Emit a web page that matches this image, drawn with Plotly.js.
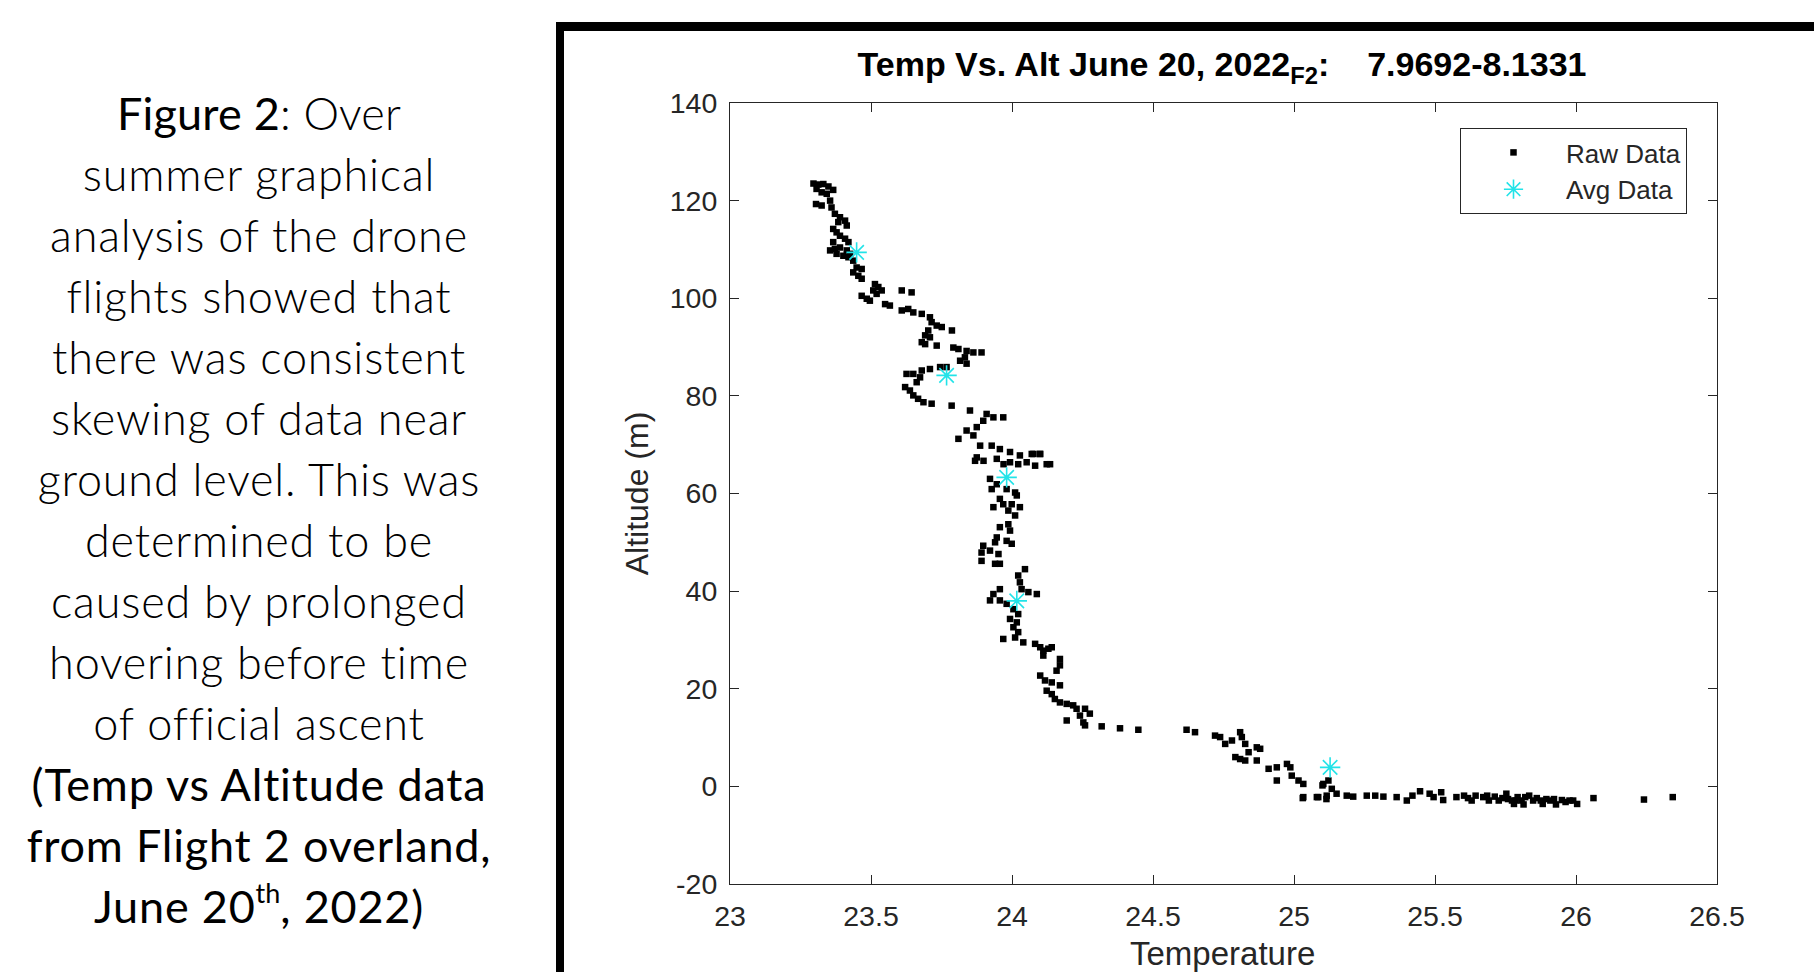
<!DOCTYPE html>
<html>
<head>
<meta charset="utf-8">
<script src="https://cdn.plot.ly/plotly-3.0.1.min.js"></script>
<style>
html, body { margin: 0; padding: 0; background: #fff; width: 1814px; height: 972px; overflow: hidden; }
#chart { position: absolute; left: 0; top: 0; width: 1814px; height: 972px; }
#caption { position: absolute; left: 0; top: 83px; width: 518px; text-align: center;
  font-family: Lato, "Open Sans", sans-serif; font-weight: 300; font-size: 45px; line-height: 61px;
  letter-spacing: 0.8px; color: #000; white-space: nowrap; }
#caption .em { font-weight: 400; }
#caption .tight { letter-spacing: 0.2px; }
#caption sup { font-size: 0.6em; line-height: 0; vertical-align: 0.75em; letter-spacing: 0; }
</style>
</head>
<body>
<div id="chart"></div>
<div id="caption">
  <div class="tight"><span class="em">Figure 2</span>: Over</div>
  <div>summer graphical</div>
  <div>analysis of the drone</div>
  <div>flights showed that</div>
  <div>there was consistent</div>
  <div>skewing of data near</div>
  <div>ground level. This was</div>
  <div>determined to be</div>
  <div>caused by prolonged</div>
  <div>hovering before time</div>
  <div>of official ascent</div>
  <div class="em">(Temp vs Altitude data</div>
  <div class="em">from Flight 2 overland,</div>
  <div class="em">June 20<sup>th</sup>, 2022)</div>
</div>
<script>
// ---- data ----
const rawTemp = [
 23.296,23.313,23.331,23.349,23.366,23.307,23.325,23.343,23.305,23.325,23.355,23.360,23.372,23.390,23.408,23.384,23.414,23.366,23.378,23.390,23.408,23.420,23.366,23.355,23.372,23.390,23.414,23.426,23.420,23.437,23.449,23.467,23.437,23.455,23.467,23.378,23.402,
 23.514,23.526,23.508,23.538,23.467,23.485,23.496,23.520,23.609,23.644,23.550,23.567,23.609,23.632,23.650,23.680,23.709,23.715,23.733,23.751,23.787,23.703,23.692,23.709,23.680,23.692,23.733,23.792,23.810,23.839,23.863,23.892,23.833,23.816,23.839,23.768,23.745,23.709,23.680,23.650,23.626,23.674,23.662,23.621,23.638,23.650,23.667,23.686,23.715,23.786,23.851,23.910,23.934,23.969,23.898,23.875,23.839,23.863,23.810,23.887,23.928,23.957,23.993,24.028,24.076,24.099,23.875,
 23.869,23.899,23.946,23.970,23.993,24.022,24.052,24.070,24.100,24.082,24.123,24.135,
 23.922,23.946,23.928,23.981,24.011,24.017,23.957,23.934,23.969,23.999,24.028,23.987,24.011,23.957,23.987,23.993,23.946,23.940,23.981,23.999,23.898,23.892,23.922,23.952,23.892,23.940,23.957,
 24.046,24.022,24.028,24.034,24.058,24.088,23.957,23.934,23.922,23.957,23.981,24.005,24.022,23.993,24.017,24.005,24.022,23.969,24.011,24.040,24.082,24.100,24.111,24.129,24.141,24.111,24.170,24.170,24.158,
 24.100,24.117,24.141,24.170,24.123,24.141,24.152,24.170,24.194,24.217,24.229,24.259,24.276,24.241,24.194,24.253,24.259,24.318,24.383,24.448,
 24.619,24.649,24.720,24.738,24.756,24.780,24.809,24.815,24.827,24.792,24.809,24.839,24.868,24.880,24.868,24.827,24.910,24.939,24.939,24.975,24.987,24.992,25.016,25.033,
 25.104,25.122,25.134,25.033,25.086,25.116,25.151,25.187,25.210,25.258,25.288,25.317,25.364,25.031,25.081,25.115,25.101,
 25.400,25.420,25.447,25.481,25.495,25.522,25.529,25.576,25.603,25.630,25.644,25.671,25.691,25.712,25.739,25.753,25.773,25.780,25.793,25.807,25.814,25.834,25.848,25.861,25.882,25.895,25.909,25.929,25.950,25.977,26.004,26.062,26.241,26.343,
 25.617,25.685,25.726,25.759,25.786,25.820,25.875,25.922,25.963,25.990
];
const rawAlt = [
 123.5,123.3,123.4,122.9,122.2,122.4,121.7,121.4,119.3,119.0,120.0,118.6,117.3,116.6,115.9,115.6,114.9,114.2,113.5,112.8,112.2,111.5,111.5,109.8,110.1,110.4,109.8,109.1,108.4,107.7,106.3,106.0,105.3,104.6,104.0,109.1,108.7,
 102.9,102.3,101.6,101.6,100.5,99.9,99.5,100.9,101.6,101.2,98.8,98.5,97.5,97.8,97.1,96.8,96.1,95.1,94.4,94.1,93.4,93.4,92.4,92.0,91.0,90.6,90.3,89.9,89.6,89.2,88.9,88.9,87.9,87.2,86.6,85.9,85.9,85.5,85.2,84.5,84.5,83.8,82.8,81.8,81.1,80.1,79.4,78.7,78.4,78.0,77.0,76.3,75.6,75.6,74.9,73.6,72.9,71.9,71.2,69.8,69.8,69.1,68.5,67.8,68.1,68.1,67.4,
 66.7,66.7,67.1,66.0,66.4,66.0,66.4,68.1,68.1,65.7,66.0,66.0,
 63.0,61.9,60.9,60.9,60.2,59.6,58.9,57.2,57.8,57.8,57.2,56.5,55.5,53.1,53.7,52.4,51.0,50.0,50.3,49.7,49.3,47.9,48.3,47.6,46.2,45.6,45.6,
 44.5,43.2,41.8,40.4,39.8,39.4,40.4,39.4,38.1,38.1,37.4,36.3,35.3,34.3,33.6,32.6,31.6,30.2,30.5,29.5,29.2,28.5,27.8,28.2,28.5,26.8,26.1,24.8,23.7,
 22.7,21.7,21.3,20.7,19.6,18.9,17.9,17.2,16.9,16.6,15.9,15.9,14.9,14.5,13.5,13.1,12.5,12.3,11.9,11.6,
 11.6,11.1,10.4,10.1,8.7,9.4,11.1,10.1,8.7,6.0,5.6,7.0,8.0,7.7,5.3,5.3,3.6,3.9,1.2,4.6,3.9,2.2,1.2,0.5,
 0.5,1.2,-0.5,-2.2,-2.2,-1.9,-1.5,-1.9,-2.1,-1.9,-1.9,-2.1,-2.2,-2.4,-2.2,-2.6,0.2,
 -2.9,-1.9,-1.0,-1.5,-2.2,-1.2,-2.8,-2.2,-1.9,-2.9,-1.9,-2.2,-2.9,-2.1,-2.4,-1.5,-2.9,-3.6,-2.2,-2.9,-3.7,-1.9,-2.9,-2.4,-3.6,-2.6,-2.9,-3.7,-2.8,-2.9,-3.6,-2.4,-2.7,-2.2,
 -2.4,-1.9,-2.9,-2.6,-2.9,-2.2,-2.9,-2.6,-3.2,-2.9
];
const avgTemp = [23.449, 23.768, 23.981, 24.017, 25.128];
const avgAlt  = [109.4, 84.2, 63.3, 38.0, 3.9];

const xTickVals = [23, 23.5, 24, 24.5, 25, 25.5, 26, 26.5];
const xTickText = ['23', '23.5', '24', '24.5', '25', '25.5', '26', '26.5'];
const yTickVals = [-20, 0, 20, 40, 60, 80, 100, 120, 140];
const yTickText = ['-20', '0', '20', '40', '60', '80', '100', '120', '140'];

const seriesNames = ['Raw Data', 'Avg Data'];
const titleText = '<b>Temp Vs. Alt June 20, 2022<sub>F2</sub>:\u00a0\u00a0\u00a0 7.9692-8.1331</b>';
const xTitle = 'Temperature';
const yTitle = 'Altitude (m)';

// ---- chart ----
const axisColor = '#262626';
const font = 'Liberation Sans, Arial, Helvetica, sans-serif';

const traces = [
  { type: 'scatter', mode: 'markers', name: seriesNames[0], x: rawTemp, y: rawAlt,
    marker: { symbol: 'square', size: 6.5, color: '#000000', line: { width: 0 } } },
  { type: 'scatter', mode: 'markers', name: seriesNames[1], x: avgTemp, y: avgAlt,
    marker: { symbol: 'asterisk-open', size: 17, color: '#22e3e8', line: { color: '#22e3e8', width: 1.6 } } }
];

// page-pixel helpers for positions outside the plot area
const L = 730, R = 97, T = 103, B = 88, W = 1814, H = 972;
const pw = W - L - R, ph = H - T - B;
const px = v => (v - L) / pw;
const py = v => (H - B - v) / ph;

const layout = {
  width: W, height: H, autosize: false,
  margin: { l: L, r: R, t: T, b: B, pad: 0 },
  paper_bgcolor: '#ffffff', plot_bgcolor: '#ffffff',
  font: { family: font, color: axisColor },
  title: { text: titleText, font: { family: font, size: 34, color: '#000000' },
           x: px(1222), xanchor: 'center', xref: 'paper', y: 1 - 64.5 / H, yref: 'container', yanchor: 'middle' },
  showlegend: true,
  legend: { x: px(1460), y: py(128), xanchor: 'left', yanchor: 'top', bgcolor: '#ffffff',
            bordercolor: axisColor, borderwidth: 1, itemwidth: 95,
            font: { family: font, size: 26, color: axisColor } },
  xaxis: { range: [23, 26.5], tickvals: xTickVals, ticktext: xTickText, ticks: 'inside', ticklen: 9,
           tickwidth: 1, tickcolor: axisColor, showline: true, linecolor: axisColor, linewidth: 1,
           mirror: 'ticks', showgrid: false, zeroline: false, ticklabelstandoff: 7,
           tickfont: { family: font, size: 28.5, color: axisColor } },
  yaxis: { range: [-20, 140], tickvals: yTickVals, ticktext: yTickText, ticks: 'inside', ticklen: 9,
           tickwidth: 1, tickcolor: axisColor, showline: true, linecolor: axisColor, linewidth: 1,
           mirror: 'ticks', showgrid: false, zeroline: false, ticklabelstandoff: 6,
           tickfont: { family: font, size: 28.5, color: axisColor },
           title: { text: yTitle, font: { family: font, size: 32, color: axisColor }, standoff: 11 } },
  annotations: [
    { text: xTitle, xref: 'paper', yref: 'paper', x: px(1222), y: py(953), xanchor: 'center', yanchor: 'middle',
      showarrow: false, font: { family: font, size: 33, color: axisColor } }
  ],
  shapes: [
    { type: 'rect', xref: 'paper', yref: 'paper', x0: px(556), x1: px(564), y0: py(990), y1: py(22),
      fillcolor: '#000000', line: { width: 0 }, layer: 'above' },
    { type: 'rect', xref: 'paper', yref: 'paper', x0: px(556), x1: px(1830), y0: py(31), y1: py(22),
      fillcolor: '#000000', line: { width: 0 }, layer: 'above' }
  ]
};

Plotly.newPlot('chart', traces, layout, { staticPlot: true, displayModeBar: false });
</script>
</body>
</html>
